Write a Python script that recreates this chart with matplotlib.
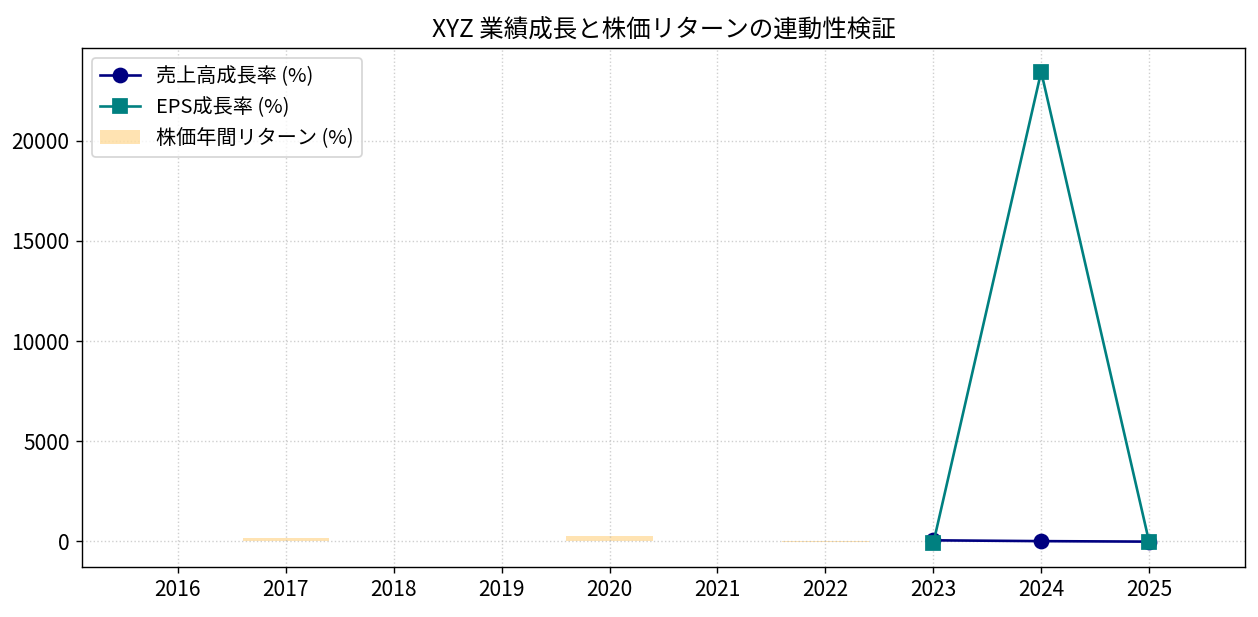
import matplotlib
matplotlib.use('Agg')
import numpy as np
import matplotlib.pyplot as plt

plt.rcParams['font.family'] = ['Liberation Sans Narrow', 'Noto Sans CJK JP', 'DejaVu Sans']

years = [2016, 2017, 2018, 2019, 2020, 2021, 2022, 2023, 2024, 2025]
revenue_growth = [np.nan, np.nan, np.nan, np.nan, np.nan, np.nan, np.nan, 55, 15, -10]
eps_growth = [np.nan, np.nan, np.nan, np.nan, np.nan, np.nan, np.nan, -100, 23450, -15]
stock_return = [15, 160, 10, 0, 260, 0, -35, 20, 0, 0]

fig, ax = plt.subplots(figsize=(9.992, 4.897), dpi=126)
plt.subplots_adjust(left=0.065, right=0.989, top=0.922, bottom=0.081)

ax.bar(years, stock_return, width=0.8, color='orange', alpha=0.3, label='株価年間リターン (%)')
ax.plot(years, revenue_growth, 'o-', color='navy', lw=1.5, ms=8, label='売上高成長率 (%)')
ax.plot(years, eps_growth, 's-', color='teal', lw=1.5, ms=8, label='EPS成長率 (%)')

ax.set_xticks(years)
ax.tick_params(labelsize=12)
ax.grid(True, linestyle=':', alpha=0.6)
ax.set_title('XYZ 業績成長と株価リターンの連動性検証', fontsize=14)

ax.legend(loc='upper left', fontsize=11.5)

plt.savefig('out.png', dpi=126)
